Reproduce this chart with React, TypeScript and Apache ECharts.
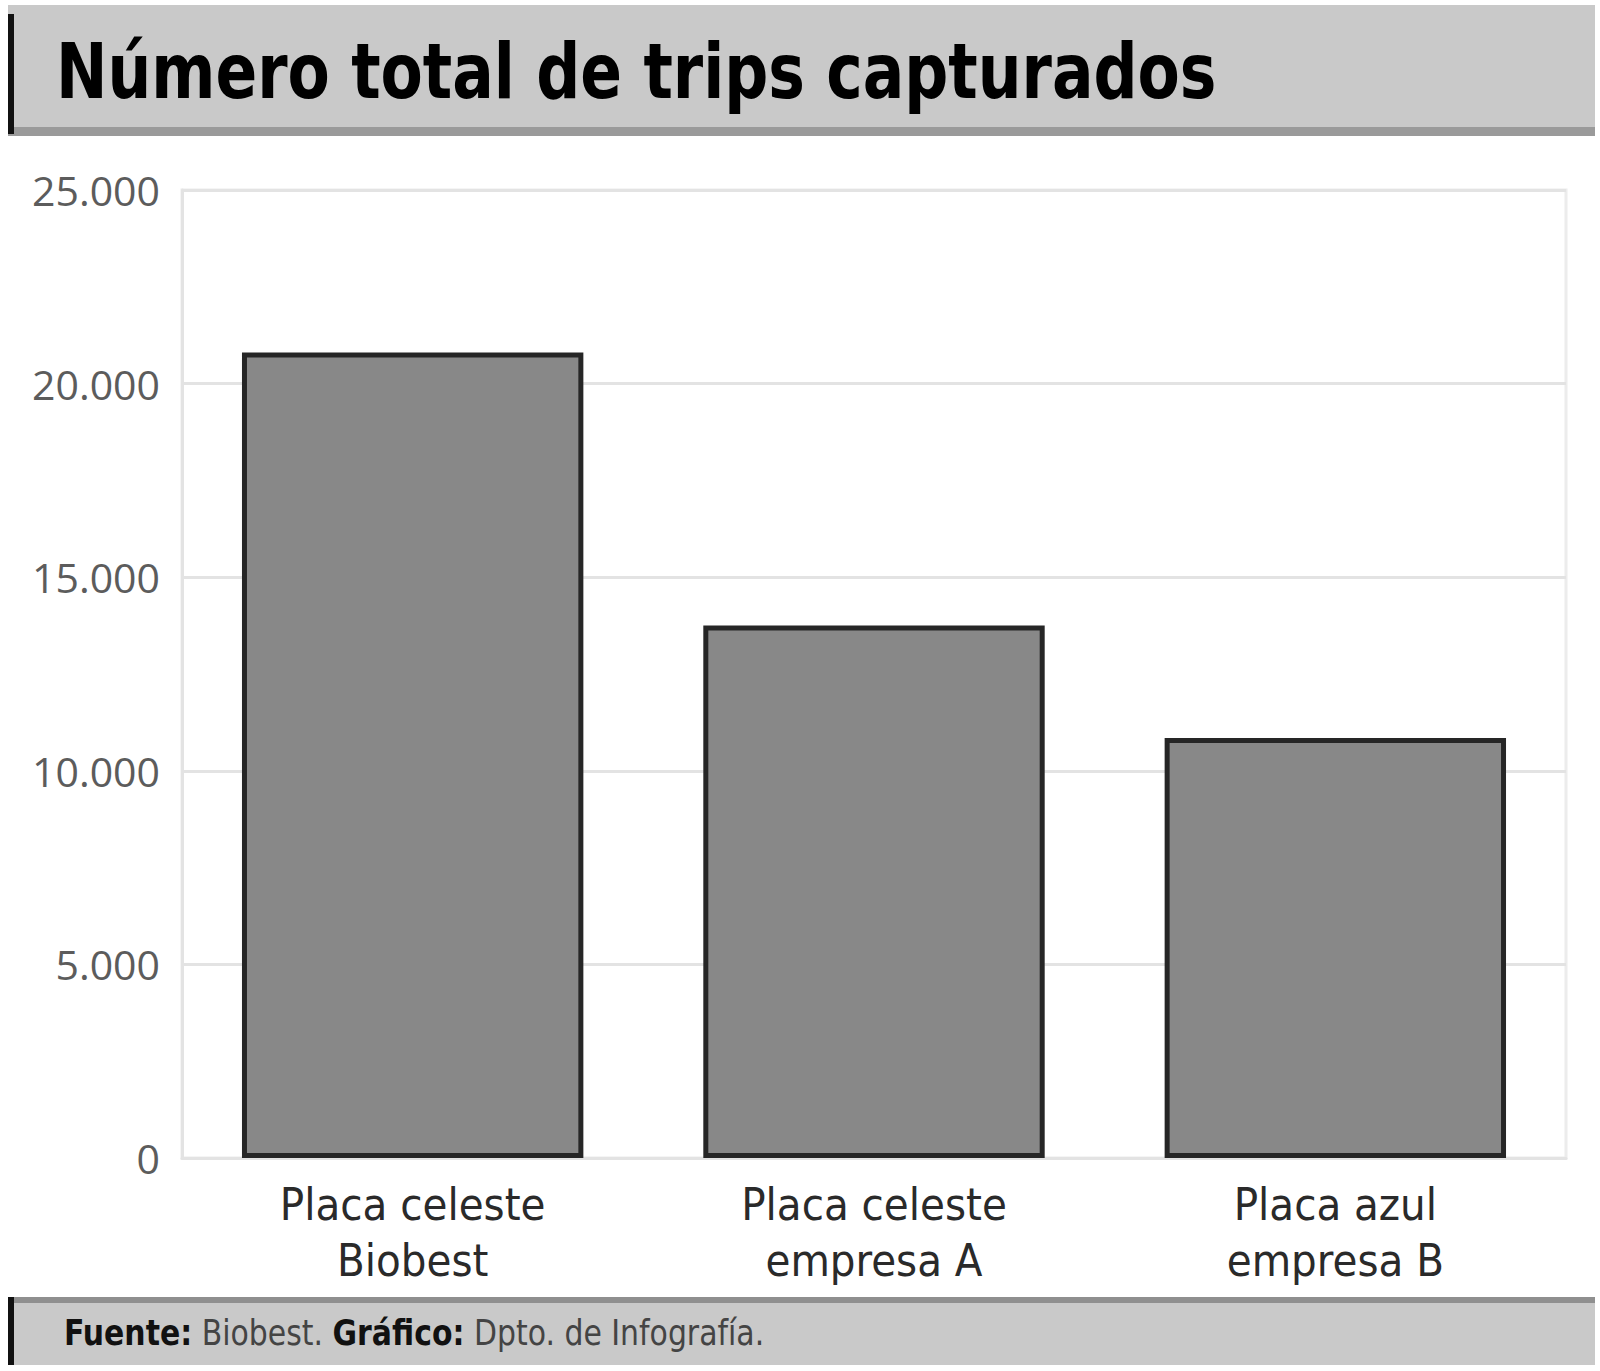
import * as echarts from 'echarts';
import { useEffect, useRef } from 'react';

const categories = ['Placa celeste\nBiobest', 'Placa celeste\nempresa A', 'Placa azul\nempresa B'];
const trips = [20800, 13750, 10850];
const yTicks = [0, 5000, 10000, 15000, 20000, 25000];

const NARROW = "'DejaVu Sans Condensed', 'DejaVu Sans', sans-serif";

// 20000 -> "20.000"
const fmt = (v: number) => String(v).replace(/\B(?=(\d{3})+(?!\d))/g, '.');

export default function App() {
  const ref = useRef<HTMLDivElement>(null);

  useEffect(() => {
    document.body.style.margin = '0';
    if (!ref.current) return;
    const chart = echarts.init(ref.current, null, { renderer: 'svg' });
    chart.setOption({
      animation: false,
      backgroundColor: '#fff',
      grid: {
        left: 182,
        right: 34,
        top: 190,
        bottom: 213,
        show: true,
        borderColor: '#ececec',
        borderWidth: 3,
      },
      xAxis: {
        type: 'category',
        data: categories,
        axisLine: { lineStyle: { color: '#e3e3e3', width: 3 } },
        axisTick: { show: false },
        axisLabel: {
          color: '#2a2a2a',
          fontFamily: NARROW,
          fontSize: 45,
          lineHeight: 56,
          margin: 18,
        },
      },
      yAxis: {
        type: 'value',
        min: yTicks[0],
        max: yTicks[yTicks.length - 1],
        interval: 5000,
        axisLine: { show: true, lineStyle: { color: '#e3e3e3', width: 3 } },
        axisTick: { show: false },
        splitLine: { lineStyle: { color: '#e3e3e3', width: 3 } },
        axisLabel: {
          color: '#5c5c5c',
          fontFamily: "'Open Sans', sans-serif",
          fontSize: 41,
          margin: 22,
          formatter: (v: number) => fmt(v),
        },
      },
      series: [
        {
          type: 'bar',
          data: trips,
          barCategoryGap: '26%',
          itemStyle: { color: '#888888', borderColor: '#262626', borderWidth: 5 },
        },
      ],
      graphic: [
        // title band
        { type: 'rect', shape: { x: 8, y: 5, width: 1587, height: 128 }, style: { fill: '#c9c9c9' } },
        { type: 'rect', shape: { x: 8, y: 127, width: 1587, height: 9 }, style: { fill: '#9a9a9a' } },
        { type: 'rect', shape: { x: 8, y: 14, width: 6, height: 120 }, style: { fill: '#111' } },
        {
          type: 'text',
          x: 56,
          y: 72,
          scaleX: 0.9,
          style: {
            text: 'Número total de trips capturados',
            font: `bold 76px ${NARROW}`,
            fill: '#000',
            textVerticalAlign: 'middle',
          },
        },
        // footer band
        { type: 'rect', shape: { x: 8, y: 1297, width: 1587, height: 68 }, style: { fill: '#c9c9c9' } },
        { type: 'rect', shape: { x: 8, y: 1297, width: 1587, height: 6 }, style: { fill: '#8f8f8f' } },
        { type: 'rect', shape: { x: 8, y: 1297, width: 6, height: 68 }, style: { fill: '#111' } },
        {
          type: 'text',
          x: 64,
          y: 1333,
          scaleX: 0.95,
          style: {
            text: '{b|Fuente:} Biobest. {b|Gráfico:} Dpto. de Infografía.',
            fontFamily: NARROW,
            fontSize: 35,
            fill: '#444',
            textVerticalAlign: 'middle',
            rich: {
              b: { fontFamily: NARROW, fontSize: 35, fontWeight: 'bold', fill: '#111' },
            },
          },
        },
      ],
    });
    return () => chart.dispose();
  }, []);

  return <div ref={ref} style={{ width: 1600, height: 1371 }} />;
}
